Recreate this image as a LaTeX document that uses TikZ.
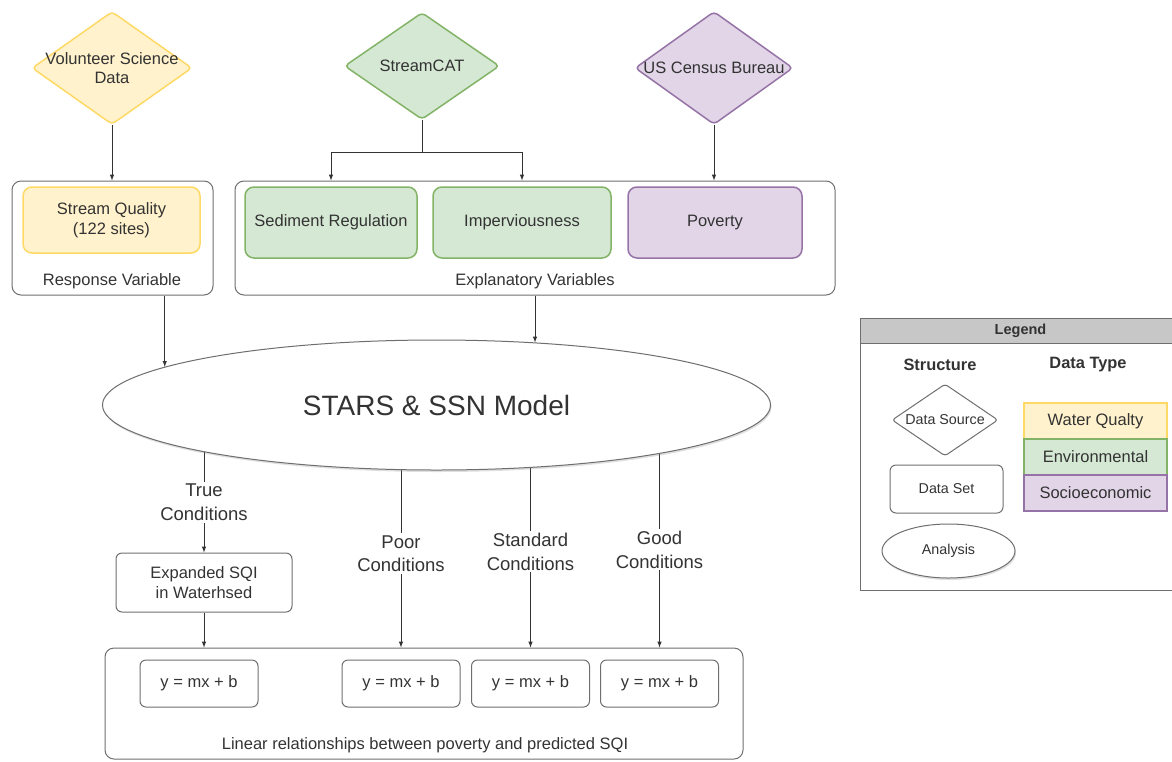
\documentclass[tikz,border=0pt]{standalone}
\usepackage{fontspec}
\setmainfont{Liberation Sans}
\usetikzlibrary{shapes.geometric,backgrounds,shadows}

\definecolor{txt}{HTML}{333333}
\definecolor{edge}{HTML}{6E6E6E}
\definecolor{wqfill}{HTML}{FFF2CC}
\definecolor{wqline}{HTML}{FFD966}
\definecolor{envfill}{HTML}{D5E8D4}
\definecolor{envline}{HTML}{82B366}
\definecolor{socfill}{HTML}{E1D5E7}
\definecolor{socline}{HTML}{9673A6}

\begin{document}
\begin{tikzpicture}[x=1pt,y=-1pt,
		every node/.style={font=\fontsize{16.5}{20}\selectfont,text=txt},
		source/.style={diamond,draw,line width=1.5pt,rounded corners=4pt,inner sep=0pt,
			minimum width=160pt,minimum height=113pt},
		group/.style={draw=edge,line width=1pt,rounded corners=9pt},
		varbox/.style={draw,line width=1.5pt,rounded corners=9pt,align=center},
		wq/.style={fill=wqfill,draw=wqline},
		env/.style={fill=envfill,draw=envline},
		soc/.style={fill=socfill,draw=socline},
		setbox/.style={draw=edge,line width=1pt,rounded corners=6pt,align=center},
		eqbox/.style={setbox,minimum width=118pt,minimum height=47pt},
		cond/.style={fill=white,align=center,inner sep=2pt,font=\fontsize{18.5}{23.5}\selectfont},
		typebox/.style={draw,line width=2pt,minimum width=143pt,minimum height=36pt},
		small/.style={font=\fontsize{14.3}{17}\selectfont},
		link/.style={draw=black!80,line width=1pt,-latex}]
	\useasboundingbox (0,0) rectangle (1172,761);
	% data sources
	\node[source,wq,label={[align=center,font=\fontsize{16.5}{19}\selectfont]center:Volunteer Science\\Data}] (vsd) at (112,68) {};
	\node[source,env,minimum width=155pt,minimum height=107pt,label=center:StreamCAT] (scat) at (422,66) {};
	\node[source,soc,minimum width=158pt,label=center:US Census Bureau] (census) at (714,68) {};
	% data sets
	\node[group,minimum width=201pt,minimum height=114pt] (resp) at (112.5,238) {};
	\node[varbox,wq,minimum width=177pt,minimum height=66pt] (sq) at (111.5,220) {Stream Quality\\(122 sites)};
	\node (resplab) at (112,281) {Response Variable};
	\node[group,minimum width=600pt,minimum height=114pt] (expl) at (535,238) {};
	\node[varbox,env,minimum width=172pt,minimum height=71pt] (sed) at (331,222.5) {Sediment Regulation};
	\node[varbox,env,minimum width=178pt,minimum height=71pt] (imp) at (522,222.5) {Imperviousness};
	\node[varbox,soc,minimum width=174pt,minimum height=71pt] (pov) at (715,222.5) {Poverty};
	\node (expllab) at (535,281) {Explanatory Variables};
	\draw[link] (vsd) -- (vsd |- resp.north);
	\draw[link] (census) -- (census |- expl.north);
	\coordinate (fork) at (422,152);
	\draw[draw=black!80,line width=1pt] (scat) -- (fork);
	\draw[link] (fork) -| (sed |- expl.north);
	\draw[link] (fork) -| (imp |- expl.north);
	% analysis
	\node[ellipse,draw=edge,line width=1pt,fill=white,minimum width=668pt,minimum height=130pt,
		drop shadow={opacity=0.25,shadow xshift=1pt,shadow yshift=-2pt},
		font=\fontsize{28}{32}\selectfont] (model) at (436.5,405) {STARS \& SSN Model};
	\draw[link] (model.172 |- resp.south) -- (model.172);
	\draw[link] (expl.south) -- (model.32 -| expl.south);
	% predictions
	\node[setbox,minimum width=176pt,minimum height=59pt] (exp) at (204,582.5) {Expanded SQI\\in Waterhsed};
	\node[group,minimum width=638pt,minimum height=111pt] (out) at (424,703.5) {};
	\node[eqbox] (eqa) at (199,683.5) {y = mx + b};
	\node[eqbox] (eqb) at (401,683.5) {y = mx + b};
	\node[eqbox] (eqc) at (530.5,683.5) {y = mx + b};
	\node[eqbox] (eqd) at (659.5,683.5) {y = mx + b};
	\node (outlab) at (425,745) {Linear relationships between poverty and predicted SQI};
	\begin{pgfonlayer}{background}
		\draw[link] (exp |- model.center) -- node[cond,pos=0.66]{True\\Conditions} (exp.north);
		\foreach \e/\txt/\p in {eqb/Poor/0.613, eqc/Standard/0.605, eqd/Good/0.597}
		\draw[link] (\e |- model.center) -- node[cond,pos=\p]{\txt\\Conditions} (\e |- out.north);
	\end{pgfonlayer}
	\draw[link] (exp) -- (exp |- out.north);
	% legend
	\node[draw=edge,line width=1pt,minimum width=320pt,minimum height=272pt,anchor=north west] (legend) at (860,318) {};
	\node[draw=edge,fill=black!22,line width=1pt,minimum width=320pt,minimum height=25pt,anchor=north west,
		font=\bfseries\fontsize{14.5}{17}\selectfont] (legendhead) at (860,318) {Legend};
	\node[font=\bfseries\fontsize{16.4}{19}\selectfont] (structlab) at (940,365) {Structure};
	\node[font=\bfseries\fontsize{16.4}{19}\selectfont] (typelab) at (1088,365) {Data Type};
	\node[diamond,draw=edge,line width=1pt,rounded corners=3pt,inner sep=0pt,minimum width=106pt,minimum height=72pt,
		label={[small]center:Data Source}] (keysrc) at (945,420) {};
	\node[setbox,small,minimum width=113pt,minimum height=48pt] (keyset) at (946.5,489) {Data Set};
	\node[ellipse,draw=edge,line width=1pt,fill=white,minimum width=133pt,minimum height=54pt,small,
		drop shadow={opacity=0.25,shadow xshift=1pt,shadow yshift=-2pt}] (keyana) at (948.5,551) {Analysis};
	\node[typebox,wq] (keywq) at (1095.5,421) {Water Qualty};
	\node[typebox,env] (keyenv) at (1095.5,457) {Environmental};
	\node[typebox,soc] (keysoc) at (1095.5,493) {Socioeconomic};
\end{tikzpicture}
\end{document}
